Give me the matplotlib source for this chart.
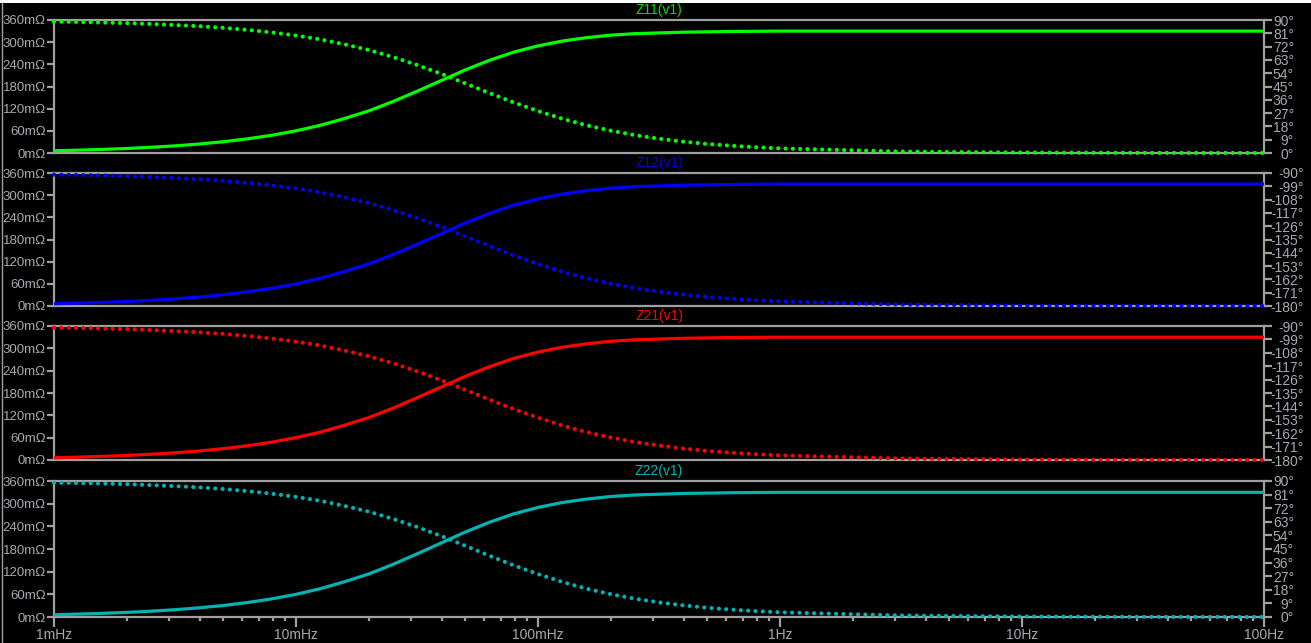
import matplotlib
matplotlib.use("Agg")
import matplotlib.pyplot as plt
from matplotlib.ticker import FixedLocator, FixedFormatter, LogLocator, NullFormatter

# ---------------- data ----------------
freq_hz = [0.001, 0.00126, 0.00158, 0.002, 0.00251, 0.00316, 0.00398, 0.00501, 0.00631,
           0.00794, 0.01, 0.0126, 0.0158, 0.02, 0.0251, 0.0316, 0.0398, 0.0501, 0.0631,
           0.0794, 0.1, 0.126, 0.158, 0.2, 0.251, 0.316, 0.398, 0.501, 0.631, 0.794,
           1.0, 3.16, 10.0, 31.6, 100.0]
mag_mohm = [6, 7.7, 9.7, 12.2, 15.4, 19.3, 24.3, 30.5, 38.4,
            48, 60, 75, 93, 114, 139, 167, 196, 225, 251,
            273, 290, 303, 312, 319, 323, 325, 327, 328, 329, 329.5,
            330, 330, 330, 330, 330]
phase_deg = [88.9, 88.7, 88.3, 87.9, 87.3, 86.6, 85.8, 84.7, 83.3,
             81.6, 79.5, 76.9, 73.6, 69.7, 65.0, 59.6, 53.6, 47.1, 40.5,
             34.2, 28.4, 23.2, 18.8, 15.1, 12.1, 9.7, 7.7, 6.1, 4.9, 3.9,
             3.1, 1.0, 0.3, 0.1, 0.03]

titles = ["Z11(v1)", "Z12(v1)", "Z21(v1)", "Z22(v1)"]
colors = ["#00ff00", "#0000ff", "#ff0000", "#00b4b4"]
title_colors = ["#00e000", "#0000e0", "#ff0000", "#00b4b4"]
phase_offset = [0, -180, -180, 0]          # Z12/Z21 phase runs -180..-90

left_ticks = [0, 60, 120, 180, 240, 300, 360]
left_labels = ["0mΩ", "60mΩ", "120mΩ", "180mΩ", "240mΩ", "300mΩ", "360mΩ"]
right_ticks_pos = [0, 9, 18, 27, 36, 45, 54, 63, 72, 81, 90]
right_ticks_neg = [-180, -171, -162, -153, -144, -135, -126, -117, -108, -99, -90]
x_ticks = [0.001, 0.01, 0.1, 1, 10, 100]
x_labels = ["1mHz", "10mHz", "100mHz", "1Hz", "10Hz", "100Hz"]

# ---------------- layout ----------------
W, H = 1311, 643
plt.rcParams["font.family"] = ["Liberation Sans", "DejaVu Sans"]
fig = plt.figure(figsize=(W / 100, H / 100), dpi=100, facecolor="black")

panels_px = [(20, 153), (173, 306), (326, 460), (481, 617)]
x0, x1 = 54, 1264
grey = "#a0a0a0"
txt = "#a8a8b0"
fs_left = 9.5
fs = 10

# window decorations
fig.add_artist(plt.Rectangle((0, 1 - 3 / H), 1, 3 / H, transform=fig.transFigure,
                             facecolor="white", edgecolor="none"))
fig.add_artist(plt.Line2D([2 / W, 2 / W], [0, 1 - 3 / H], transform=fig.transFigure,
                          color=grey, lw=1))

for i in range(4):
    top, bot = panels_px[i]
    ax = fig.add_axes([x0 / W, 1 - bot / H, (x1 - x0) / W, (bot - top) / H])
    ax.set_facecolor("black")
    ax.set_xscale("log")
    ax.set_xlim(0.001, 100)
    ax.set_ylim(0, 360)
    for s in ax.spines.values():
        s.set_color(grey)
        s.set_linewidth(1.6)

    ax2 = ax.twinx()
    for s in ax2.spines.values():
        s.set_visible(False)

    ax.plot(freq_hz, mag_mohm, color=colors[i], lw=2.3, solid_capstyle="butt",
            zorder=4, clip_on=False)

    ax.yaxis.set_major_locator(FixedLocator(left_ticks))
    ax.yaxis.set_major_formatter(FixedFormatter(left_labels))
    ax.tick_params(axis="y", colors=grey, labelcolor=txt, length=5, width=1.6,
                   pad=1, labelsize=fs_left, direction="out")

    ph = [p + phase_offset[i] for p in phase_deg]
    if phase_offset[i] == 0:
        ax2.set_ylim(0, 90)
        rt = right_ticks_pos
        right_edge = 1294
    else:
        ax2.set_ylim(-180, -90)
        rt = right_ticks_neg
        right_edge = 1304
    ax2.plot(freq_hz, ph, color=colors[i], lw=3.0, linestyle=(0, (0.01, 1.75)),
             dash_capstyle="round", zorder=4, clip_on=False)
    ax2.yaxis.set_major_locator(FixedLocator(rt))
    ax2.yaxis.set_major_formatter(FixedFormatter([f"{v}°" for v in rt]))
    ticklen_px = 8
    pad_pt = (right_edge - x1 - ticklen_px) * 0.72
    ax2.tick_params(axis="y", colors=grey, labelcolor=txt, length=ticklen_px * 0.72,
                    width=1.6, pad=pad_pt, labelsize=fs, direction="out")
    for lab in ax2.get_yticklabels():
        lab.set_horizontalalignment("right")

    if i == 3:
        ax.xaxis.set_major_locator(FixedLocator(x_ticks))
        ax.xaxis.set_major_formatter(FixedFormatter(x_labels))
        ax.xaxis.set_minor_locator(LogLocator(base=10, subs=range(2, 10)))
        ax.xaxis.set_minor_formatter(NullFormatter())
        ax.tick_params(axis="x", which="major", colors=grey, labelcolor=txt,
                       length=7, width=1.6, pad=1, labelsize=fs, direction="out")
        ax.tick_params(axis="x", which="minor", colors=grey, length=3, width=1.6,
                       direction="out")
    else:
        ax.tick_params(axis="x", which="both", length=0, labelbottom=False)
    ax2.tick_params(axis="x", which="both", length=0, labelbottom=False,
                    labeltop=False)

    fig.text((x0 + x1) / 2 / W, 1 - (top - 10) / H, titles[i], color=title_colors[i],
             ha="center", va="center", fontsize=fs)

fig.savefig("out.png", dpi=100, facecolor="black")
